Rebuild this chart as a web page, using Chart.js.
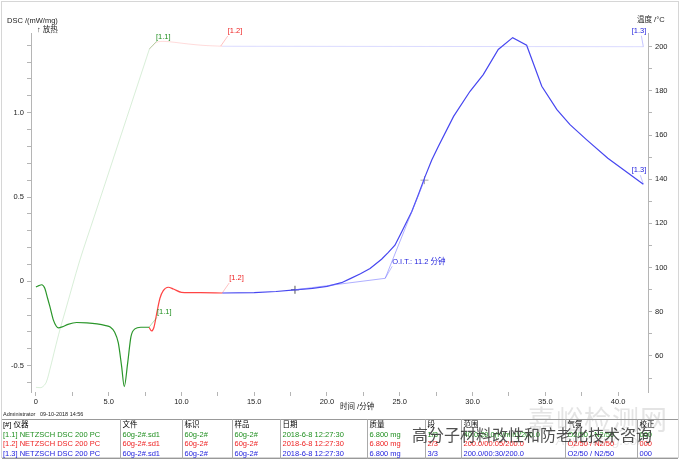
<!DOCTYPE html>
<html>
<head>
<meta charset="utf-8">
<script src="https://cdn.jsdelivr.net/npm/chart.js@4.4.1/dist/chart.umd.min.js"></script>
<style>
  body { margin: 0; background: #fff; font-family: "Liberation Sans", Arial, "Noto Sans CJK SC", sans-serif; }
  #wrap { position: relative; width: 680px; height: 459px; overflow: hidden; }
  #frame { position: absolute; left: 1px; top: 1px; width: 676px; height: 455px; border: 1px solid #d6d6d6; }
  #chart { position: absolute; left: 0; top: 0; }
  .t { position: absolute; white-space: pre; line-height: 1; color: #222; font-size: 7.5px; }
  #tbl { position: absolute; left: 2px; top: 419px; width: 676px; border-collapse: collapse; table-layout: fixed;
         border-top: 1px solid #999; border-bottom: 1px solid #999; font-size: 7.5px; }
  #tbl td { height: 9.5px; line-height: 9.5px; padding: 0 0 0 2px; white-space: nowrap; overflow: hidden; border-left: 1px solid #aaa; }
  #tbl td:first-child { border-left: none; padding-left: 1px; }
  .g { color: #1f8f1f; } .r { color: #ee2222; } .b { color: #2222dd; }
  .wm1 { position: absolute; left: 528px; top: 399px; font-size: 27px; color: #e4e4e4; letter-spacing: 1px; white-space: nowrap; }
  .wm2 { position: absolute; left: 556px; top: 433px; font-size: 13px; color: #e8e8e8; font-style: italic; white-space: nowrap; }
  .wm3 { position: absolute; left: 412px; top: 422px; font-size: 16px; color: rgba(50,50,50,0.85); white-space: nowrap; }
</style>
</head>
<body>
<div id="wrap">
  <div id="frame"></div>
  <canvas id="chart" width="680" height="410"></canvas>
  <div class="t" style="left:7px;top:17px;">DSC /(mW/mg)</div>
  <div class="t" style="left:37px;top:26px;">↑ 放热</div>
  <div class="t" style="left:637px;top:16px;">温度 /°C</div>
  <div class="t" style="left:340px;top:403px;">时间 /分钟</div>
  <div class="t" style="left:3px;top:412px;font-size:5.5px;">Administrator   09-10-2018 14:56</div>
  <div class="wm1">嘉峪检测网</div>
  <div class="wm2">AnyTesting.com</div>
  <table id="tbl">
    <colgroup>
      <col style="width:118px"><col style="width:62px"><col style="width:50px"><col style="width:48px"><col style="width:87px">
      <col style="width:58px"><col style="width:36px"><col style="width:104px"><col style="width:72px"><col style="width:41px">
    </colgroup>
    <tbody id="tbody"></tbody>
  </table>
  <div class="wm3">高分子材料改性和防老化技术咨询</div>
</div>
<script>
// segment [1.1] – dynamic heating, DSC signal
const seg1Time = [0, 0.2, 0.4, 0.6, 0.8, 0.96, 1.2, 1.4, 1.55, 1.8, 2.2, 2.8, 3.5, 4.2, 4.8, 5.1, 5.4, 5.66, 5.89, 6.07, 6.3, 6.53, 6.8, 7.2, 7.77];
const seg1Dsc  = [-0.034, -0.025, -0.02, -0.04, -0.10, -0.15, -0.23, -0.266, -0.276, -0.27, -0.255, -0.244, -0.246, -0.252, -0.262, -0.27, -0.30, -0.365, -0.506, -0.624, -0.486, -0.328, -0.282, -0.272, -0.272];
// segment [1.2] – switch gas
const seg2Time = [7.77, 7.95, 8.11, 8.3, 8.52, 8.75, 9.09, 9.44, 10.0, 11.3, 12.8];
const seg2Dsc  = [-0.272, -0.294, -0.272, -0.19, -0.10, -0.055, -0.035, -0.045, -0.065, -0.067, -0.069];
// segment [1.3] – isothermal in O2
const seg3Time = [12.8, 15.0, 16.5, 17.8, 19.0, 20.0, 21.0, 21.6, 22.3, 22.96, 23.75, 24.2, 24.67, 25.13, 25.82, 26.27, 26.74, 27.2, 27.65, 28.7, 29.83, 30.74, 31.77, 32.76, 33.72, 34.76, 35.8, 36.7, 37.85, 39.3, 41.74];
const seg3Dsc  = [-0.069, -0.067, -0.060, -0.050, -0.042, -0.030, -0.008, 0.016, 0.045, 0.076, 0.131, 0.17, 0.214, 0.293, 0.413, 0.512, 0.621, 0.72, 0.80, 0.978, 1.127, 1.226, 1.375, 1.445, 1.40, 1.157, 1.018, 0.929, 0.839, 0.73, 0.576];

// temperature per segment
const temp1Time = [0, 0.4, 0.7, 1.0, 1.3, 1.65, 2.0, 3.0, 4.0, 5.0, 6.0, 7.0, 7.8];
const temp1Val  = [45.8, 45.8, 48, 55, 63, 72, 80, 103, 123, 143, 163, 183, 199];
const temp2Time = [7.8, 8.3, 8.8, 9.5, 10.5, 11.5, 12.8];
const temp2Val  = [199, 202.0, 202.4, 202.0, 201.2, 200.6, 200.2];
const temp3Time = [12.8, 41.74];
const temp3Val  = [200.2, 200.0];

// O.I.T. construction
const oitBaseTime = [17.8, 24.0];
const oitBaseDsc  = [-0.05, 0.018];
const oitTanTime  = [24.0, 26.7];
const oitTanDsc   = [0.018, 0.60];
const markTime = [17.8, 26.7];
const markDsc  = [-0.05, 0.60];

// axis ticks
const xTicks = [0, 2.5, 5, 7.5, 10, 12.5, 15, 17.5, 20, 22.5, 25, 27.5, 30, 32.5, 35, 37.5, 40];
const xLabels = [0, 5, 10, 15, 20, 25, 30, 35, 40];
const dscTicks = [-0.6, -0.5, -0.4, -0.3, -0.2, -0.1, 0, 0.1, 0.2, 0.3, 0.4, 0.5, 0.6, 0.7, 0.8, 0.9, 1.0, 1.1, 1.2, 1.3, 1.4];
const dscLabels = [-0.5, 0, 0.5, 1.0];
const tempTicks = [50, 60, 70, 80, 90, 100, 110, 120, 130, 140, 150, 160, 170, 180, 190, 200];
const tempLabels = [60, 80, 100, 120, 140, 160, 180, 200];

// table rows
const tableHead = ["[#] 仪器", "文件", "标识", "样品", "日期", "质量", "段", "范围", "气氛", "校正"];
const tableRows = [
  ["g", "[1.1] NETZSCH DSC 200 PC", "60g-2#.sd1", "60g-2#", "60g-2#", "2018-6-8 12:27:30", "6.800 mg", "1/3", "40.0/20.0(K/min)/200.0", "O2/50 / N2/50", "000"],
  ["r", "[1.2] NETZSCH DSC 200 PC", "60g-2#.sd1", "60g-2#", "60g-2#", "2018-6-8 12:27:30", "6.800 mg", "2/3", "200.0/00:05/200.0", "O2/50 / N2/50", "000"],
  ["b", "[1.3] NETZSCH DSC 200 PC", "60g-2#.sd1", "60g-2#", "60g-2#", "2018-6-8 12:27:30", "6.800 mg", "3/3", "200.0/00:30/200.0", "O2/50 / N2/50", "000"]
];

const tbody = document.getElementById("tbody");
tbody.innerHTML = "<tr>" + tableHead.map(h => `<td>${h}</td>`).join("") + "</tr>" +
  tableRows.map(r => `<tr class="${r[0]}">` + r.slice(1).map(c => `<td>${c}</td>`).join("") + "</tr>").join("");

const pts = (xs, ys) => xs.map((x, i) => ({ x, y: ys[i] }));
const near = (arr, v) => arr.some(a => Math.abs(a - v) < 1e-6);

const GREEN = "#2a962a", RED = "#ff4444", BLUE = "#4646f0";

// labels with leader lines, anchored to data points
const notes = [
  { axis: "y1", x: 7.8,   y: 199,   lx: 7.5, ly: -8,  tx: 6.5, ty: -12, align: "left",  text: "[1.1]", color: "#1f8f1f", lead: "rgba(40,160,40,0.35)" },
  { axis: "y1", x: 12.7,  y: 200.3, lx: 7,   ly: -10, tx: 7,   ty: -15, align: "left",  text: "[1.2]", color: "#ee2222", lead: "rgba(255,80,80,0.35)" },
  { axis: "y1", x: 41.74, y: 200,   lx: -2,  ly: -11, tx: 3,   ty: -16, align: "right", text: "[1.3]", color: "#2222dd", lead: "rgba(90,90,255,0.35)" },
  { axis: "y",  x: 7.77,  y: -0.272, lx: 8,  ly: -10, tx: 8,   ty: -15, align: "left",  text: "[1.1]", color: "#1f8f1f", lead: "rgba(40,160,40,0.35)" },
  { axis: "y",  x: 12.8,  y: -0.069, lx: 7,  ly: -10, tx: 7,   ty: -15, align: "left",  text: "[1.2]", color: "#ee2222", lead: "rgba(255,80,80,0.35)" },
  { axis: "y",  x: 41.74, y: 0.576, lx: -3,  ly: -9,  tx: 3,   ty: -14, align: "right", text: "[1.3]", color: "#2222dd", lead: "rgba(90,90,255,0.35)" },
  { axis: "y",  x: 24.0,  y: 0.018, lx: 7,   ly: -12, tx: 7,   ty: -16, align: "left",  text: "O.I.T.: 11.2 分钟", color: "#2222dd", lead: "rgba(90,90,255,0.4)" }
];

const notePlugin = {
  id: "notes",
  afterDatasetsDraw(chart) {
    const c = chart.ctx;
    const xs = chart.scales.x;
    c.save();
    c.font = '7.5px "Liberation Sans", "Noto Sans CJK SC"';
    c.textBaseline = "middle";
    notes.forEach(n => {
      const px = xs.getPixelForValue(n.x);
      const py = chart.scales[n.axis].getPixelForValue(n.y);
      c.strokeStyle = n.lead;
      c.lineWidth = 1;
      c.beginPath();
      c.moveTo(px, py);
      c.lineTo(px + n.lx, py + n.ly);
      c.stroke();
      c.fillStyle = n.color;
      c.textAlign = n.align;
      c.fillText(n.text, px + n.tx, py + n.ty);
    });
    c.restore();
  }
};

const tickFont = { family: '"Liberation Sans", Arial', size: 7.5 };
const axisGrid = { drawOnChartArea: false, tickLength: 4, color: "#b5b5b5" };

new Chart(document.getElementById("chart"), {
  type: "line",
  data: {
    datasets: [
      { data: pts(temp1Time, temp1Val), yAxisID: "y1", borderColor: "rgba(60,170,60,0.2)", borderWidth: 1, pointRadius: 0, tension: 0.3 },
      { data: pts(temp2Time, temp2Val), yAxisID: "y1", borderColor: "rgba(255,90,90,0.22)", borderWidth: 1, pointRadius: 0, tension: 0.3 },
      { data: pts(temp3Time, temp3Val), yAxisID: "y1", borderColor: "rgba(110,110,255,0.25)", borderWidth: 1, pointRadius: 0, tension: 0 },
      { data: pts(oitBaseTime, oitBaseDsc), yAxisID: "y", borderColor: "rgba(110,110,255,0.55)", borderWidth: 1, pointRadius: 0, tension: 0 },
      { data: pts(oitTanTime, oitTanDsc), yAxisID: "y", borderColor: "rgba(110,110,255,0.55)", borderWidth: 1, pointRadius: 0, tension: 0 },
      { data: pts(seg1Time, seg1Dsc), yAxisID: "y", borderColor: GREEN, borderWidth: 1.2, pointRadius: 0, cubicInterpolationMode: "monotone" },
      { data: pts(seg2Time, seg2Dsc), yAxisID: "y", borderColor: RED, borderWidth: 1.2, pointRadius: 0, cubicInterpolationMode: "monotone" },
      { data: pts(seg3Time, seg3Dsc), yAxisID: "y", borderColor: BLUE, borderWidth: 1.2, pointRadius: 0, tension: 0 },
      { data: pts(markTime, markDsc), yAxisID: "y", showLine: false, pointStyle: "cross", pointRadius: 4,
        pointBorderWidth: 1, pointBorderColor: ["#555", "#aaa"], borderColor: ["#555", "#aaa"] }
    ]
  },
  options: {
    responsive: false,
    animation: false,
    devicePixelRatio: 1,
    layout: { padding: { top: 33, left: 0, right: 0, bottom: 0 } },
    plugins: { legend: { display: false }, tooltip: { enabled: false } },
    scales: {
      x: {
        type: "linear", min: -0.34, max: 42.06,
        border: { display: false },
        grid: axisGrid,
        afterFit: s => { s.height = 18; },
        afterBuildTicks: s => { s.ticks = xTicks.map(v => ({ value: v })); },
        ticks: {
          autoSkip: false, maxRotation: 0, padding: 1, color: "#222", font: tickFont,
          callback: v => near(xLabels, v) ? (v === 0 ? "0" : v.toFixed(1)) : ""
        }
      },
      y: {
        position: "left", min: -0.656, max: 1.4725,
        border: { display: true, color: "#b5b5b5" },
        grid: axisGrid,
        afterFit: s => { s.width = 31; },
        afterBuildTicks: s => { s.ticks = dscTicks.map(v => ({ value: v })); },
        ticks: {
          autoSkip: false, padding: 3, color: "#222", font: tickFont,
          callback: v => near(dscLabels, v) ? (Math.abs(v) < 1e-9 ? "0" : v.toFixed(1)) : ""
        }
      },
      y1: {
        position: "right", min: 43.7, max: 206.2,
        border: { display: true, color: "#b5b5b5" },
        grid: axisGrid,
        afterFit: s => { s.width = 32; },
        afterBuildTicks: s => { s.ticks = tempTicks.map(v => ({ value: v })); },
        ticks: {
          autoSkip: false, padding: 3, color: "#222", font: tickFont,
          callback: v => near(tempLabels, v) ? String(v) : ""
        }
      }
    }
  },
  plugins: [notePlugin]
});
</script>
</body>
</html>
